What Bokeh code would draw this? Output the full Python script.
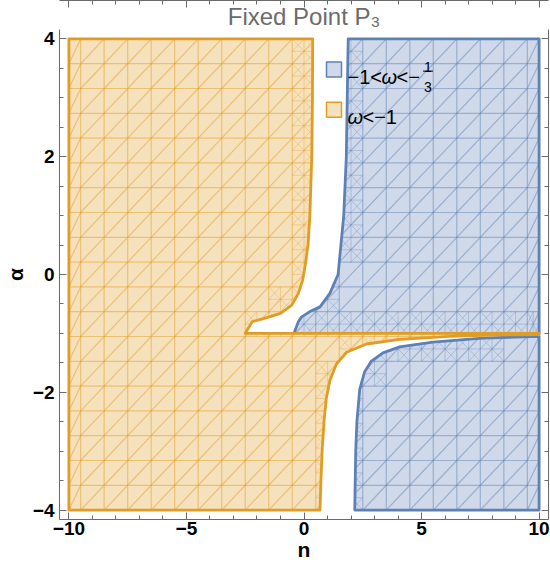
import math
from bokeh.plotting import figure
from bokeh.models import Range1d, LinearAxis, FixedTicker, Label, Title
from bokeh.embed import file_html
from bokeh.resources import INLINE

# ---------------- data ----------------
n_lo, n_hi = -10.0, 10.0
a_lo, a_hi = -4.0, 4.0
a_split = -1.0

# right edge of the omega<-1 region above alpha=-1 (top to bottom)
orange_top_n = [0.37, 0.36, 0.33, 0.25, 0.17, 0.05, -0.06, -0.24, -0.52, -1.00, -1.72, -2.20, -2.43, -2.50]
orange_top_a = [4.00, 3.00, 2.00, 1.00, 0.50, 0.15, -0.10, -0.32, -0.52, -0.66, -0.75, -0.80, -0.95, -1.00]
# upper edge of the omega<-1 region below alpha=-1 (bottom to right)
orange_bot_n = [0.68, 0.72, 0.77, 0.85, 0.95, 1.10, 1.38, 1.81, 2.66, 4.07, 6.20, 8.00, 10.00]
orange_bot_a = [-4.00, -3.50, -3.00, -2.50, -2.10, -1.80, -1.52, -1.32, -1.18, -1.10, -1.05, -1.03, -1.02]
# left edge of the -1<omega<-1/3 region above alpha=-1 (top to bottom)
blue_top_n = [1.88, 1.84, 1.80, 1.69, 1.45, 1.10, 0.68, 0.25, -0.10, -0.24, -0.38, -0.42]
blue_top_a = [4.00, 3.00, 2.00, 1.00, 0.00, -0.32, -0.55, -0.63, -0.72, -0.80, -0.95, -1.00]
# left / upper edge of the -1<omega<-1/3 region below alpha=-1 (bottom to right)
blue_bot_n = [2.16, 2.20, 2.25, 2.37, 2.58, 2.87, 3.36, 4.07, 5.48, 7.60, 10.00]
blue_bot_a = [-4.00, -3.00, -2.50, -1.95, -1.65, -1.47, -1.33, -1.23, -1.15, -1.08, -1.05]

x_ticks = [-10, -5, 0, 5, 10]
x_tick_labels = ["\u221210", "\u22125", "0", "5", "10"]
x_minor = list(range(-10, 11))
y_ticks = [-4, -2, 0, 2, 4]
y_tick_labels = ["\u22124", "\u22122", "0", "2", "4"]
y_minor = [v * 0.5 for v in range(-8, 9)]

legend_labels = ["\u22121<", "\u03c9", "<\u2212", "1", "3"]
legend_labels_2 = ["\u03c9", "<\u22121"]
title_text = "Fixed Point P\u2083"
x_label, y_label = "n", "\u03b1"

# ---------------- styling ----------------
BLUE, BLUE_FILL = "#5E81B5", "#CFD9E9"
ORANGE, ORANGE_FILL = "#E19C24", "#F6E1BD"
FRAME = "#6a6a6a"
FONT = "Liberation Sans"

pad_x, pad_y = 0.4, 0.16
X0, X1 = n_lo - pad_x, n_hi + pad_x
Y0, Y1 = a_lo - pad_y, a_hi + pad_y

# reference-layout helpers (frame of the reference picture: x 59..548, y 30..519)
def rx(px):
    return X0 + (px - 59) * (X1 - X0) / 489.0

def ry(py):
    return Y1 - (py - 30) * (Y1 - Y0) / 489.0

# ---------------- polygons ----------------
orange_poly = ([(n_lo, a_hi)] + list(zip(orange_top_n, orange_top_a)) + [(n_hi, a_split)]
               + list(zip(orange_bot_n, orange_bot_a))[::-1] + [(n_lo, a_lo)])
blue_poly_1 = list(zip(blue_top_n, blue_top_a)) + [(n_hi, a_split), (n_hi, a_hi)]
blue_poly_2 = list(zip(blue_bot_n, blue_bot_a)) + [(n_hi, a_lo)]


def inside(px, py, poly):
    c = False
    m = len(poly)
    j = m - 1
    for i in range(m):
        xi, yi = poly[i]
        xj, yj = poly[j]
        if (yi > py) != (yj > py):
            xint = xi + (py - yi) * (xj - xi) / (yj - yi)
            if px < xint:
                c = not c
        j = i
    return c


def clip(p0, p1, poly):
    ts = [0.0, 1.0]
    dx, dy = p1[0] - p0[0], p1[1] - p0[1]
    m = len(poly)
    for i in range(m):
        a = poly[i]
        b = poly[(i + 1) % m]
        ex, ey = b[0] - a[0], b[1] - a[1]
        den = dx * ey - dy * ex
        if abs(den) < 1e-12:
            continue
        t = ((a[0] - p0[0]) * ey - (a[1] - p0[1]) * ex) / den
        u = ((a[0] - p0[0]) * dy - (a[1] - p0[1]) * dx) / den
        if -1e-12 <= t <= 1 + 1e-12 and -1e-12 <= u <= 1 + 1e-12:
            ts.append(min(max(t, 0.0), 1.0))
    ts.sort()
    out = []
    for t0, t1 in zip(ts[:-1], ts[1:]):
        if t1 - t0 < 1e-9:
            continue
        tm = 0.5 * (t0 + t1)
        if inside(p0[0] + tm * dx, p0[1] + tm * dy, poly):
            out.append(((p0[0] + t0 * dx, p0[1] + t0 * dy), (p0[0] + t1 * dx, p0[1] + t1 * dy)))
    return out


# mesh (triangulation look of the filled regions)
gx = [n_lo] + [n_lo + 0.5 + i for i in range(20)] + [n_hi]
gy = [a_lo + k * (a_hi - a_lo) / 19.0 for k in range(20)]


def to_xy(segs, poly):
    xs, ys = [], []
    for p0, p1 in segs:
        for q0, q1 in clip(p0, p1, poly):
            xs.append([q0[0], q1[0]])
            ys.append([q0[1], q1[1]])
    return xs, ys


def mesh(poly):
    base, fine = [], []
    for x in gx[1:-1]:
        base.append(((x, a_lo), (x, a_hi)))
    for y in gy[1:-1]:
        base.append(((n_lo, y), (n_hi, y)))
    for i in range(len(gx) - 1):
        for k in range(len(gy) - 1):
            x0, x1 = gx[i], gx[i + 1]
            y0, y1 = gy[k], gy[k + 1]
            base.append(((x0, y0), (x1, y1)))
            flags = set()
            for fx in (0.05, 0.3, 0.5, 0.7, 0.95):
                for fy in (0.05, 0.3, 0.5, 0.7, 0.95):
                    flags.add(inside(x0 + fx * (x1 - x0), y0 + fy * (y1 - y0), poly))
            if len(flags) == 2:
                xm, ym = 0.5 * (x0 + x1), 0.5 * (y0 + y1)
                fine.append(((xm, y0), (xm, y1)))
                fine.append(((x0, ym), (x1, ym)))
                fine.append(((x0, y1), (x1, y0)))
                fine.append(((x0, ym), (xm, y1)))
                fine.append(((xm, y0), (x1, ym)))
    return to_xy(base, poly), to_xy(fine, poly)


# ---------------- figure ----------------
p = figure(width=550, height=578, min_border_left=59, min_border_right=2,
           min_border_top=0, min_border_bottom=59, output_backend="svg",
           toolbar_location=None, x_range=Range1d(X0, X1), y_range=Range1d(Y0, Y1),
           x_axis_location=None, y_axis_location=None, title=None)
p.grid.visible = False
p.outline_line_color = None
p.background_fill_color = "white"
p.border_fill_color = "white"

p.add_layout(Title(text=title_text, align="center", text_font=FONT, text_font_size="24px",
                   text_font_style="normal", text_color="#6b6b6b", standoff=0, offset=0), "above")


def style_axis(ax, ticks, minor, labels, show):
    ax.ticker = FixedTicker(ticks=ticks, minor_ticks=minor)
    ax.axis_line_color = FRAME
    ax.axis_line_width = 1
    ax.major_tick_line_color = FRAME
    ax.minor_tick_line_color = FRAME
    ax.major_tick_in = 7
    ax.major_tick_out = 0
    ax.minor_tick_in = 4
    ax.minor_tick_out = 0
    if show:
        ax.major_label_overrides = {t: l for t, l in zip(ticks, labels)}
        ax.major_label_text_font = FONT
        ax.major_label_text_font_style = "bold"
        ax.major_label_text_font_size = "19px"
        ax.major_label_text_color = "black"
        ax.axis_label_text_font = FONT
        ax.axis_label_text_font_style = "bold"
        ax.axis_label_text_font_size = "21px"
        ax.axis_label_text_color = "black"
    else:
        ax.major_label_overrides = {t: "" for t in ticks}
        ax.major_label_text_font_size = "1px"
        ax.major_label_standoff = 0


bx = LinearAxis(axis_label=x_label)
style_axis(bx, x_ticks, x_minor, x_tick_labels, True)
bx.major_label_standoff = 2
bx.axis_label_standoff = 0
p.add_layout(bx, "below")

ly = LinearAxis(axis_label=y_label)
style_axis(ly, y_ticks, y_minor, y_tick_labels, True)
ly.major_label_standoff = 5
ly.axis_label_standoff = 3
p.add_layout(ly, "left")

tx = LinearAxis(); style_axis(tx, x_ticks, x_minor, x_tick_labels, False); p.add_layout(tx, "above")
ry_ = LinearAxis(); style_axis(ry_, y_ticks, y_minor, y_tick_labels, False); p.add_layout(ry_, "right")


def draw_region(polys, edge, fill):
    for poly in polys:
        p.patch([q[0] for q in poly], [q[1] for q in poly], fill_color=fill, line_color=None)
        (bxs, bys), (fxs, fys) = mesh(poly)
        p.multi_line(bxs, bys, line_color=edge, line_alpha=0.48, line_width=1.2)
        p.multi_line(fxs, fys, line_color=edge, line_alpha=0.32, line_width=1.0)
    for poly in polys:
        p.patch([q[0] for q in poly], [q[1] for q in poly], fill_color=None,
                line_color=edge, line_width=2.8, line_join="round")


draw_region([blue_poly_1, blue_poly_2], BLUE, BLUE_FILL)
draw_region([orange_poly], ORANGE, ORANGE_FILL)

# ---------------- legend ----------------
p.scatter([rx(333.5)], [ry(70)], marker="square", size=15, fill_color=BLUE_FILL,
          line_color=BLUE, line_width=1.5)
p.scatter([rx(333.5)], [ry(110)], marker="square", size=15, fill_color=ORANGE_FILL,
          line_color=ORANGE, line_width=1.5)


def lab(text, px, py, size, style="normal", color="black", align="left"):
    p.add_layout(Label(x=rx(px), y=ry(py), text=text, text_font=FONT, text_font_size=size,
                       text_font_style=style, text_color=color, text_align=align,
                       text_baseline="alphabetic"))


lab(legend_labels[0], 347, 77, "20px")
lab(legend_labels[1], 381, 77, "20px", style="italic")
lab(legend_labels[2], 396, 77, "20px")
lab(legend_labels[3], 427.5, 67, "14px", align="center")
lab(legend_labels[4], 427.5, 87, "14px", align="center")
p.segment(x0=[rx(422.5)], y0=[ry(71.5)], x1=[rx(432.5)], y1=[ry(71.5)], line_color="black", line_width=1)

lab(legend_labels_2[0], 347, 117, "20px", style="italic")
lab(legend_labels_2[1], 362, 117, "20px")

open("out.html", "w").write(file_html(p, INLINE))
